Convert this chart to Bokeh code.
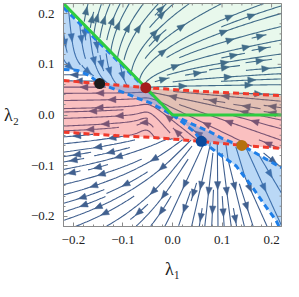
import numpy as np
from math import hypot, exp, tanh
from bokeh.plotting import figure
from bokeh.models import Range1d, FixedTicker, CustomJSTickFormatter
from bokeh.embed import file_html
from bokeh.resources import INLINE

# ---------------- data ----------------
x_ticks = [-0.2, -0.1, 0.0, 0.1, 0.2]
y_ticks = [-0.2, -0.1, 0.0, 0.1, 0.2]
minor_ticks = [k / 50 for k in range(-11, 12) if k % 5 != 0]

# fixed points (black, red, blue, orange)
pt_x = [-0.147, -0.054, 0.058, 0.140]
pt_y = [0.062, 0.054, -0.052, -0.060]
pt_colors = ["#1c1c1c", "#a61e1e", "#0b4a9c", "#b5710c"]

# green boundary
green_x = [-0.22, 0.0, 0.22]
green_y = [0.22, 0.0, 0.0]

# red dashed boundaries (upper, lower)
ru_x = [-0.22, -0.147, -0.054, 0.05, 0.15, 0.22]
ru_y = [0.068, 0.062, 0.054, 0.047, 0.042, 0.038]
rl_x = [-0.22, -0.108, -0.045, 0.058, 0.14, 0.22]
rl_y = [-0.034, -0.041, -0.044, -0.052, -0.060, -0.066]

# blue dashed boundaries
bg_x = [-0.22, -0.19, -0.12, 0.0]
bg_y = [0.212, 0.183, 0.116, 0.0]
b1_x = [-0.22, -0.192, -0.168, -0.147, -0.095, -0.068, -0.045, 0.0]
b1_y = [0.090, 0.088, 0.078, 0.062, 0.043, 0.032, 0.024, 0.0]
b2_x = [0.0, 0.017, 0.03, 0.045, 0.058, 0.075, 0.091, 0.128, 0.158, 0.19, 0.209, 0.215]
b2_y = [0.0, -0.012, -0.022, -0.034, -0.052, -0.063, -0.075, -0.100, -0.138, -0.183, -0.208, -0.22]
b3_x = [0.0, 0.04, 0.077, 0.10, 0.12, 0.14, 0.162, 0.187, 0.22]
b3_y = [0.0, -0.018, -0.034, -0.046, -0.054, -0.060, -0.072, -0.086, -0.104]

R = (pt_x[1], pt_y[1])
Q = (0.09, 0.0)
S = (0.09, 0.06)

X0, X1, Y0, Y1 = -0.22, 0.22, -0.22, 0.22


def _i(x, xs, ys):
    return float(np.interp(x, xs, ys))


def pink_dir(x, y):
    dx = x - R[0]
    dy = y - R[1]
    c = 0.55 + 0.45 * tanh(dx / 0.02)
    return -(abs(dx) + 0.03), -dy * tanh(dx / 0.015) * c


def field(x, y):
    ru = _i(x, ru_x, ru_y)
    rl = _i(x, rl_x, rl_y)
    if y > ru:
        if y >= max(-x, 0.0):
            dx, dy = x - R[0], y - R[1]
            r = hypot(dx, dy) + 1e-9
            u, v = dx / r + 0.8, dy / r
        else:
            b1 = _i(x, b1_x, b1_y) if x < 0 else -1.0
            if y > b1:
                w = exp(-(y - b1) / 0.02)
                u = 0.1 + 0.9 * w
                v = -1.0 + 0.58 * w
            else:
                u, v = pink_dir(x, y)
    elif y >= rl:
        u, v = pink_dir(x, y)
    else:
        if x > 0 and y < _i(x, b3_x, b3_y) and y > _i(x, b2_x, b2_y):
            u, v = x - S[0], y - S[1]
        else:
            u, v = x - Q[0], y - Q[1]
            n0 = hypot(u, v) + 1e-12
            u, v = u / n0, v / n0
            u -= 0.8 * min(1.0, max(0.0, -x / 0.2))
    n = hypot(u, v) + 1e-12
    return u / n, v / n


# ---------------- stream lines ----------------
NG = 36
occ = np.zeros((NG, NG), dtype=bool)


def cell_of(x, y):
    i = min(NG - 1, max(0, int((x - X0) / (X1 - X0) * NG)))
    j = min(NG - 1, max(0, int((y - Y0) / (Y1 - Y0) * NG)))
    return (i, j)


def integrate(x, y, sgn, owned):
    pts = []
    ci = cell_of(x, y)
    h = 0.0018
    prev = None
    for _ in range(1000):
        u, v = field(x, y)
        u *= sgn
        v *= sgn
        if prev is not None and u * prev[0] + v * prev[1] < 0.2:
            break
        xm, ym = x + 0.5 * h * u, y + 0.5 * h * v
        um, vm = field(xm, ym)
        um *= sgn
        vm *= sgn
        if um * u + vm * v < 0.2:
            break
        xn, yn = x + h * um, y + h * vm
        if not (X0 <= xn <= X1 and Y0 <= yn <= Y1):
            break
        cn = cell_of(xn, yn)
        if cn != ci:
            if occ[cn]:
                break
            occ[cn] = True
            owned.append(cn)
            ci = cn
        pts.append((xn, yn))
        prev = (um, vm)
        x, y = xn, yn
    return pts


cells = [(i, j) for i in range(NG) for j in range(NG)]


def _lvl(c):
    if c[0] % 4 == 1 and c[1] % 4 == 1:
        return 0
    if c[0] % 2 == 1 and c[1] % 2 == 1:
        return 1
    return 2


cells.sort(key=lambda c: (_lvl(c), c))

lines_x, lines_y = [], []
for c in cells:
    if occ[c]:
        continue
    sx = X0 + (c[0] + 0.5) * (X1 - X0) / NG
    sy = Y0 + (c[1] + 0.5) * (Y1 - Y0) / NG
    occ[c] = True
    owned = [c]
    fw = integrate(sx, sy, 1, owned)
    bw = integrate(sx, sy, -1, owned)
    pts = bw[::-1] + [(sx, sy)] + fw
    arr = np.array(pts)
    L = float(np.sum(np.hypot(np.diff(arr[:, 0]), np.diff(arr[:, 1])))) if len(arr) > 1 else 0.0
    if L < 0.03:
        for o in owned:
            occ[o] = False
        occ[c] = True
        continue
    lines_x.append(list(arr[::2, 0]) + [arr[-1, 0]])
    lines_y.append(list(arr[::2, 1]) + [arr[-1, 1]])

# arrow heads
ah_x, ah_y = [], []
A_F, A_B, A_W = 0.0088, 0.0072, 0.0064
for lx, ly in zip(lines_x, lines_y):
    xs = np.array(lx)
    ys = np.array(ly)
    seg = np.hypot(np.diff(xs), np.diff(ys))
    s = np.concatenate([[0.0], np.cumsum(seg)])
    L = s[-1]
    n = max(1, int(L / 0.17 + 0.5))
    for k in range(n):
        sk = (k + 0.5) * L / n
        idx = int(np.clip(np.searchsorted(s, sk), 1, len(xs) - 1))
        tx, ty = xs[idx] - xs[idx - 1], ys[idx] - ys[idx - 1]
        tn = hypot(tx, ty) + 1e-12
        tx, ty = tx / tn, ty / tn
        nx, ny = -ty, tx
        px, py = xs[idx], ys[idx]
        ah_x.append([px + tx * A_F, px - tx * A_B + nx * A_W, px - tx * A_B - nx * A_W])
        ah_y.append([py + ty * A_F, py - ty * A_B + ny * A_W, py - ty * A_B - ny * A_W])

# ---------------- figure ----------------
p = figure(width=283, height=281, x_range=Range1d(X0, X1), y_range=Range1d(Y0, Y1),
           output_backend="svg", toolbar_location=None,
           min_border_left=58, min_border_right=2, min_border_top=3, min_border_bottom=50)
p.grid.visible = False
p.outline_line_color = "#8a8a8a"
p.outline_line_width = 1

STREAM = "#41608f"
p.multi_line(lines_x, lines_y, line_color=STREAM, line_width=1.1)
p.patches(ah_x, ah_y, fill_color=STREAM, line_color=STREAM, line_width=0.5)

# translucent regions on top of the stream lines
p.patch(ru_x + rl_x[::-1], ru_y + rl_y[::-1], fill_color="#f03c3c", fill_alpha=0.32, line_color=None)
p.patch(green_x + [0.22], green_y + [0.22], fill_color="#44c266", fill_alpha=0.12, line_color=None)
p.patch(bg_x + b1_x[::-1], bg_y + b1_y[::-1], fill_color="#3a8ee6", fill_alpha=0.35, line_color=None)
p.patch(b3_x + [0.22] + b2_x[::-1], b3_y + [-0.22] + b2_y[::-1],
        fill_color="#3a8ee6", fill_alpha=0.35, line_color=None)

BLUE = "#1f7fe8"
RED = "#f0392b"
for bx, by in ((bg_x, bg_y), (b1_x, b1_y), (b2_x, b2_y), (b3_x, b3_y)):
    p.line(bx, by, line_color=BLUE, line_width=3, line_dash="6 4")
for rx, ry in ((ru_x, ru_y), (rl_x, rl_y)):
    p.line(rx, ry, line_color=RED, line_width=3, line_dash="6 4")
p.line(green_x, green_y, line_color="#2ecc40", line_width=3)

p.scatter(pt_x, pt_y, size=11, fill_color=pt_colors, line_color=None)

# axes
fmt = CustomJSTickFormatter(code="return (tick < -1e-9 ? '\\u2212' : '') + Math.abs(tick).toFixed(1);")
TICKC = "#8a8a8a"
for ax, tk in ((p.xaxis[0], x_ticks), (p.yaxis[0], y_ticks)):
    ax.ticker = FixedTicker(ticks=tk, minor_ticks=minor_ticks)
    ax.formatter = fmt
    ax.major_tick_in = 4
    ax.major_tick_out = 0
    ax.minor_tick_in = 2
    ax.minor_tick_out = 0
    ax.axis_line_color = TICKC
    ax.major_tick_line_color = TICKC
    ax.minor_tick_line_color = TICKC
    ax.major_label_text_font = "Liberation Serif"
    ax.major_label_text_font_size = "13px"
    ax.major_label_text_color = "#222222"
    ax.major_label_standoff = 9
    ax.axis_label_text_font = "Liberation Serif"
    ax.axis_label_text_font_size = "18px"
    ax.axis_label_text_font_style = "normal"
    ax.axis_label_text_color = "#222222"

p.xaxis[0].axis_label = "λ₁"
p.xaxis[0].axis_label_standoff = 12
p.yaxis[0].axis_label = "λ₂"
p.yaxis[0].axis_label_standoff = 9
p.yaxis[0].axis_label_orientation = "horizontal"

# mirrored inward ticks on the top and right frame edges
MAJ, MIN = 0.0078, 0.0039
tx0, ty0, tx1, ty1 = [], [], [], []
for t in x_ticks + minor_ticks:
    ln = MAJ if t in x_ticks else MIN
    tx0.append(t); ty0.append(Y1); tx1.append(t); ty1.append(Y1 - ln)
for t in y_ticks + minor_ticks:
    ln = MAJ if t in y_ticks else MIN
    tx0.append(X1); ty0.append(t); tx1.append(X1 - ln); ty1.append(t)
p.segment(tx0, ty0, tx1, ty1, line_color=TICKC, line_width=1)

open("out.html", "w").write(file_html(p, INLINE))
